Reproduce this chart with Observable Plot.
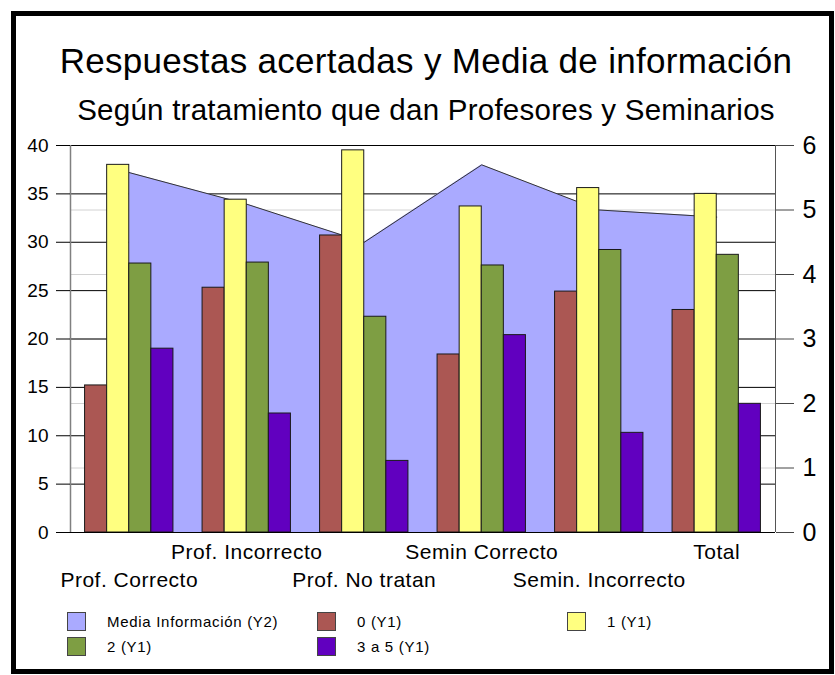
<!DOCTYPE html>
<html><head><meta charset="utf-8">
<script src="https://cdn.jsdelivr.net/npm/d3@7"></script>
<script src="https://cdn.jsdelivr.net/npm/@observablehq/plot@0.6"></script>
<style>
body{margin:0;background:#fff;font-family:"Liberation Sans",Arial,sans-serif;}
#wrap{position:relative;width:835px;height:675px;overflow:hidden;background:#fff;}
#frame{position:absolute;left:11px;top:11px;width:823px;height:663px;border:5px solid #000;box-sizing:border-box;}
#title{position:absolute;left:0;width:852px;top:43px;text-align:center;font-size:35px;line-height:35px;letter-spacing:0.3px;white-space:nowrap;}
#subtitle{position:absolute;left:0;width:852px;top:95px;text-align:center;font-size:29.5px;line-height:29.5px;letter-spacing:0.25px;white-space:nowrap;}
#chart{position:absolute;left:0;top:135px;}
#chart svg g[aria-label="x-axis tick label"] text{letter-spacing:0.5px;}
#legend{position:absolute;left:0;top:0;}
.item{position:absolute;height:19px;display:flex;align-items:center;}
.sw{width:19px;height:19px;border:1px solid #444;box-sizing:border-box;}
.lb{position:absolute;left:40px;font-size:15px;letter-spacing:0.7px;white-space:nowrap;line-height:19px;top:0;}
</style>
</head><body>
<div id="wrap">
  <div id="frame"></div>
  <div id="title"></div>
  <div id="subtitle"></div>
  <div id="chart"></div>
  <div id="legend"></div>
</div>
<script>
const titleText = "Respuestas acertadas y Media de información";
const subtitleText = "Según tratamiento que dan Profesores y Seminarios";
const categories = ["Prof. Correcto","Prof. Incorrecto","Prof. No tratan","Semin Correcto","Semin. Incorrecto","Total"];
const series = ["0 (Y1)","1 (Y1)","2 (Y1)","3 a 5 (Y1)"];
const values0 = [15.2, 25.3, 30.7, 18.4, 24.9, 23.0];
const values1 = [38.0, 34.4, 39.5, 33.7, 35.6, 35.0];
const values2 = [27.8, 27.9, 22.3, 27.6, 29.2, 28.7];
const values3a5 = [19.0, 12.3, 7.4, 20.4, 10.3, 13.3];
const mediaLabel = "Media Información (Y2)";
const media = [5.58, 5.09, 4.50, 5.70, 5.00, 4.89];
const yTicks = [0, 5, 10, 15, 20, 25, 30, 35, 40];
const y2Ticks = [0, 1, 2, 3, 4, 5, 6];
const seriesColors = ["#AB5753", "#FFFF80", "#7E9E43", "#6100BF"];
const mediaColor = "#AAAAFF";

document.getElementById("title").textContent = titleText;
document.getElementById("subtitle").textContent = subtitleText;

const k = 40 / 6; // Y2 -> Y1 units
const seriesValues = [values0, values1, values2, values3a5];
const barData = categories.flatMap((c, i) => seriesValues.map((vals, j) => ({cat: c, i, j, series: series[j], value: vals[i]})));
const mediaData = categories.map((c, i) => ({cat: c, x: i + 0.5, y: media[i] * k}));
const W = 0.188, OFF = (1 - 4 * W) / 2;
const centers = categories.map((c, i) => i + 0.5);

const chart = Plot.plot({
  width: 835, height: 465,
  marginLeft: 70, marginRight: 60, marginTop: 10, marginBottom: 68,
  x: {domain: [0, 6]},
  y: {domain: [0, 40]},
  color: {domain: series, range: seriesColors},
  style: {fontFamily: '"Liberation Sans", Arial, sans-serif', background: "transparent", overflow: "visible"},
  marks: [
    Plot.ruleY(y2Ticks.filter(t => t > 0 && t < 6).map(t => t * k), {stroke: "#d2d2d2"}),
    Plot.ruleY(yTicks.filter(t => t > 0), {stroke: "#000"}),
    Plot.areaY(mediaData, {x: "x", y: "y", fill: mediaColor}),
    Plot.lineY(mediaData, {x: "x", y: "y", stroke: "#333", strokeWidth: 1}),
    Plot.rect(barData, {x1: d => d.i + OFF + d.j * W, x2: d => d.i + OFF + (d.j + 1) * W, y1: 0, y2: "value", fill: "series", stroke: "#1a1a1a", strokeWidth: 1}),
    Plot.ruleX([0], {stroke: "#808080", strokeWidth: 1.5}),
    Plot.ruleX([6], {stroke: "#555"}),
    Plot.axisY(yTicks, {anchor: "left", tickSize: 14, tickPadding: 8, fontSize: 19, label: null, stroke: "#000"}),
    Plot.axisY(y2Ticks.map(t => t * k), {anchor: "right", tickSize: 18, tickPadding: 9, fontSize: 25, label: null, stroke: "#444", tickFormat: d => String(Math.round(d / k))}),
    Plot.axisX(centers.filter((c, i) => i % 2 === 1), {anchor: "bottom", tickSize: 0, tickPadding: 12, fontSize: 21, label: null, tickFormat: d => categories[Math.floor(d)]}),
    Plot.axisX(centers.filter((c, i) => i % 2 === 0), {anchor: "bottom", tickSize: 0, tickPadding: 40, fontSize: 21, label: null, tickFormat: d => categories[Math.floor(d)]}),
    Plot.ruleY([0], {stroke: "#000"})
  ]
});
document.getElementById("chart").appendChild(chart);

// legend
const legendLabels = [mediaLabel, ...series];
const legendColors = [mediaColor, ...seriesColors];
const lg = document.getElementById("legend");
legendLabels.forEach((lab, n) => {
  const col = n % 3, row = Math.floor(n / 3);
  const it = document.createElement("div");
  it.className = "item";
  it.style.left = (67 + col * 250) + "px";
  it.style.top = (612 + row * 25) + "px";
  const sw = document.createElement("div");
  sw.className = "sw";
  sw.style.background = legendColors[n];
  const lb = document.createElement("div");
  lb.className = "lb";
  lb.textContent = lab;
  it.appendChild(sw); it.appendChild(lb);
  lg.appendChild(it);
});
</script>
</body></html>
